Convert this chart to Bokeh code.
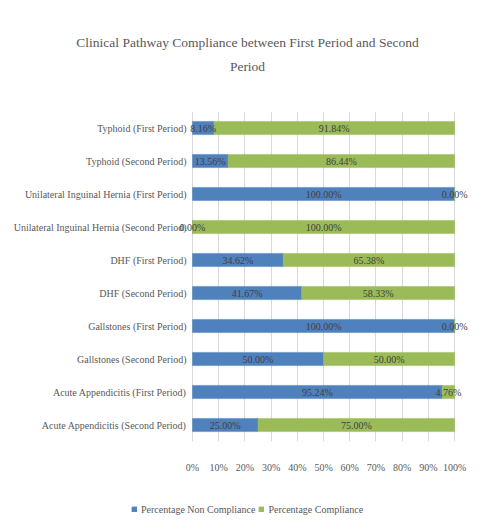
import numpy as np
from bokeh.plotting import figure
from bokeh.layouts import column
from bokeh.models import (ColumnDataSource, FactorRange, Range1d, FixedTicker, LabelSet, Label,
                          Legend, LegendItem)
from bokeh.embed import file_html
from bokeh.resources import INLINE

categories = [
    "Typhoid (First Period)",
    "Typhoid (Second Period)",
    "Unilateral Inguinal Hernia (First Period)",
    "Unilateral Inguinal Hernia (Second Period)",
    "DHF (First Period)",
    "DHF (Second Period)",
    "Gallstones (First Period)",
    "Gallstones (Second Period)",
    "Acute Appendicitis (First Period)",
    "Acute Appendicitis (Second Period)",
]
non_compliance = [8.16, 13.56, 100.00, 0.00, 34.62, 41.67, 100.00, 50.00, 95.24, 25.00]
compliance = [91.84, 86.44, 0.00, 100.00, 65.38, 58.33, 0.00, 50.00, 4.76, 75.00]
x_ticks = [0, 10, 20, 30, 40, 50, 60, 70, 80, 90, 100]
x_tick_labels = ["0%", "10%", "20%", "30%", "40%", "50%", "60%", "70%", "80%", "90%", "100%"]
title_lines = ["Clinical Pathway Compliance between First Period and Second", "Period"]
series_names = ["Percentage Non Compliance", "Percentage Compliance"]

BLUE = "#4F81BD"
GREEN = "#9BBB59"
FONT = "Liberation Serif"
GRAY = "#595959"
FS = "10px"
W = 468
TOP_H, MAIN_H, LEG_H = 111, 364, 40


def blank_fig(h):
    f = figure(width=W, height=h, output_backend="svg", toolbar_location=None,
               x_range=Range1d(0, 1), y_range=Range1d(0, 1),
               x_axis_location=None, y_axis_location=None, frame_align=False,
               min_border=0, background_fill_color="white", border_fill_color="white")
    f.outline_line_color = None
    f.grid.visible = False
    return f


# ---- title strip ----
tf = blank_fig(TOP_H)
for i, line in enumerate(title_lines):
    tf.add_layout(Label(x=247, y=TOP_H - 42 - 24 * i, x_units="screen", y_units="screen",
                        text=line, text_align="center", text_baseline="middle",
                        text_font=FONT, text_font_size="13.5px", text_color=GRAY))

# ---- main chart ----
p = figure(width=W, height=MAIN_H, output_backend="svg", toolbar_location=None,
           y_range=FactorRange(*list(reversed(categories))),
           x_range=Range1d(-5.34, 105.3), frame_align=False,
           min_border_left=178, min_border_right=0, min_border_top=0, min_border_bottom=30,
           background_fill_color="white", border_fill_color="white")
p.outline_line_color = None

src = ColumnDataSource(dict(
    cat=categories,
    non_end=non_compliance,
    comp_start=non_compliance,
    comp_end=[a + b for a, b in zip(non_compliance, compliance)],
    non_mid=[v / 2 for v in non_compliance],
    comp_mid=[a + b / 2 for a, b in zip(non_compliance, compliance)],
    non_txt=["%.2f%%" % v for v in non_compliance],
    comp_txt=["%.2f%%" % v for v in compliance],
))

p.hbar(y="cat", left=0, right="non_end", height=0.4, source=src,
       fill_color=BLUE, line_color=BLUE, line_width=0.5)
p.hbar(y="cat", left="comp_start", right="comp_end", height=0.4, source=src,
       fill_color=GREEN, line_color=GREEN, line_width=0.5)

for xcol, tcol in (("non_mid", "non_txt"), ("comp_mid", "comp_txt")):
    p.add_layout(LabelSet(x=xcol, y="cat", text=tcol, source=src, text_align="center",
                          text_baseline="middle", text_font=FONT, text_font_size=FS,
                          text_color="#404040"))

p.xaxis.ticker = FixedTicker(ticks=x_ticks)
p.xaxis.major_label_overrides = {t: l for t, l in zip(x_ticks, x_tick_labels)}
p.xaxis.axis_line_color = None
p.xaxis.major_tick_line_color = None
p.xaxis.minor_tick_line_color = None
p.xaxis.major_label_standoff = 14
p.xaxis.major_label_text_font = FONT
p.xaxis.major_label_text_font_size = FS
p.xaxis.major_label_text_color = GRAY

p.yaxis.axis_line_color = None
p.yaxis.major_tick_line_color = None
p.yaxis.minor_tick_line_color = None
p.yaxis.major_label_standoff = -14
p.yaxis.major_label_text_font = FONT
p.yaxis.major_label_text_font_size = FS
p.yaxis.major_label_text_color = GRAY

p.xgrid.grid_line_color = "#D9D9D9"
p.xgrid.grid_line_width = 1
p.ygrid.grid_line_color = None

# ---- legend strip ----
lf = blank_fig(LEG_H)
swatch = ColumnDataSource(dict(y=np.array([np.nan]), right=np.array([np.nan])))
lr1 = lf.hbar(y="y", right="right", height=0.4, source=swatch, fill_color=BLUE, line_color=BLUE)
lr2 = lf.hbar(y="y", right="right", height=0.4, source=swatch, fill_color=GREEN, line_color=GREEN)
legend = Legend(items=[LegendItem(label=series_names[0], renderers=[lr1]),
                       LegendItem(label=series_names[1], renderers=[lr2])],
                orientation="horizontal", location=(131, 0),
                glyph_width=6, glyph_height=6, label_height=12, label_standoff=4,
                spacing=3, padding=0, margin=0,
                label_text_font=FONT, label_text_font_size=FS, label_text_color=GRAY,
                border_line_color=None, background_fill_alpha=0)
lf.add_layout(legend, "center")

layout = column(tf, p, lf, spacing=0)
open("out.html", "w").write(file_html(layout, INLINE))
